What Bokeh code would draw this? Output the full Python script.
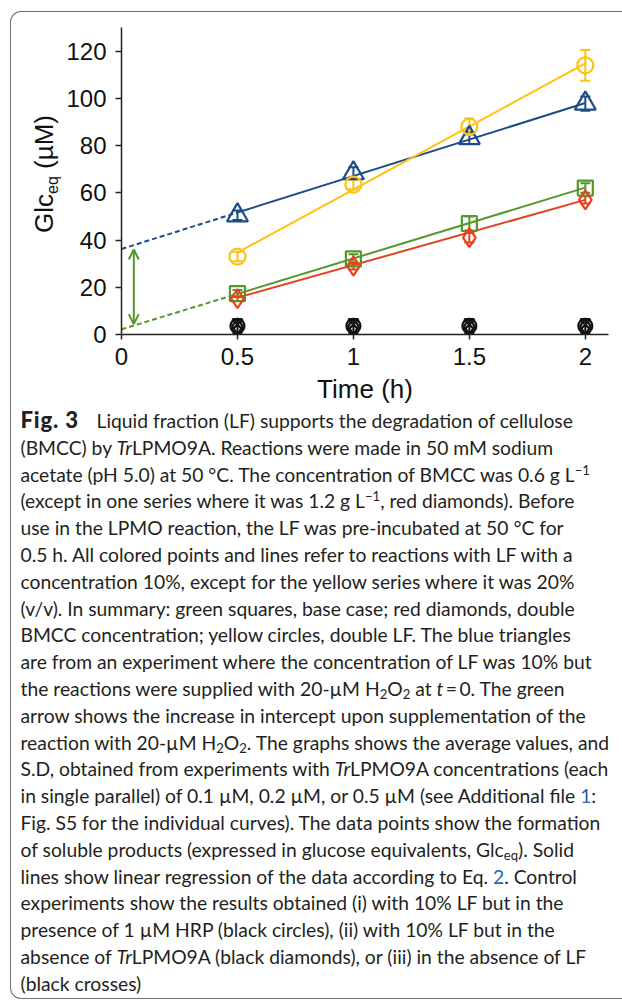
import math
from bokeh.plotting import figure
from bokeh.models import (Div, Whisker, TeeHead, Arrow, OpenHead,
                          ColumnDataSource, FixedTicker, Range1d, NumeralTickFormatter)
from bokeh.layouts import column, row
from bokeh.embed import file_html
from bokeh.resources import INLINE

# ---------------- data ----------------
time_h = [0.5, 1.0, 1.5, 2.0]

blue_h2o2 = [50.5, 68.3, 83.2, 97.8]      # blue triangles (20 uM H2O2)
blue_sd = [2.0, 2.5, 2.5, 3.0]
yellow_lf20 = [33.0, 63.5, 88.0, 114.0]   # yellow circles (20% LF)
yellow_sd = [2.0, 2.0, 3.5, 6.5]
green_base = [17.3, 32.0, 47.0, 62.0]     # green squares (base case)
green_sd = [1.5, 2.0, 3.0, 2.0]
red_bmcc = [15.2, 29.0, 41.0, 57.0]       # red diamonds (double BMCC)
red_sd = [1.0, 1.5, 2.0, 1.5]

ctrl_hrp = [3.6, 3.6, 3.6, 3.6]           # black circles
ctrl_no_lpmo = [3.4, 3.4, 3.4, 3.4]       # black diamonds
ctrl_no_lf = [4.2, 4.2, 4.2, 4.2]         # black crosses
ctrl_sd = [3.0, 3.0, 3.0, 3.0]

# linear regression (intercept, slope)
blue_fit = (36.2, 30.9)
yellow_fit = (8.0, 53.4)
green_fit = (2.2, 30.0)
red_fit = (1.8, 27.6)
fit_start, fit_end = 0.5, 2.0
extrap_start = 0.0

# arrow showing the increase in intercept
arrow_x = 0.053
arrow_y_low = 4.4
arrow_y_high = 36.0

x_ticks = [0, 0.5, 1, 1.5, 2]
y_ticks = [0, 20, 40, 60, 80, 100, 120]
x_title = "Time (h)"
y_title_main, y_title_sub, y_title_unit = "Glc", "eq", "(\u00b5M)"

# ---------------- styles ----------------
BLUE = "#1d4c87"
YELLOW = "#ffc20e"
GREEN = "#55972a"
RED = "#e5431f"
BLACK = "#111111"
AX = "#222222"
FONT = "Liberation Sans"
FIG_H = 398
LAB_W = 50

p = figure(width=611 - LAB_W, height=FIG_H, x_range=Range1d(0, 2.1), y_range=Range1d(0, 130),
           output_backend="svg", toolbar_location=None,
           min_border_left=110 - LAB_W, min_border_right=14, min_border_top=15, min_border_bottom=76)
p.grid.visible = False
p.outline_line_color = None
p.background_fill_color = None
p.border_fill_color = None

p.xaxis.ticker = FixedTicker(ticks=x_ticks)
p.yaxis.ticker = FixedTicker(ticks=y_ticks)
p.xaxis.formatter = NumeralTickFormatter(format="0.[0]")
for ax in p.axis:
    ax.axis_line_color = AX
    ax.axis_line_width = 1.5
    ax.major_tick_line_color = AX
    ax.major_tick_line_width = 1.5
    ax.major_tick_in = 0
    ax.minor_tick_line_color = None
    ax.major_label_text_font = FONT
    ax.major_label_text_font_size = "24px"
    ax.major_label_text_color = BLACK
p.xaxis.major_tick_out = 5
p.yaxis.major_tick_out = 6
p.yaxis.major_label_standoff = 9
p.xaxis.major_label_standoff = 8
p.xaxis.axis_label = x_title
p.xaxis.axis_label_text_font = FONT
p.xaxis.axis_label_text_font_size = "26px"
p.xaxis.axis_label_text_font_style = "normal"
p.xaxis.axis_label_text_color = BLACK
p.xaxis.axis_label_standoff = 6


def fit_line(fit, x0, x1):
    b, m = fit
    return [x0, x1], [b + m * x0, b + m * x1]


# regression lines
for fit, col, dashed in [(blue_fit, BLUE, True), (yellow_fit, YELLOW, False),
                         (green_fit, GREEN, True), (red_fit, RED, False)]:
    xs, ys = fit_line(fit, fit_start, fit_end)
    p.line(xs, ys, line_color=col, line_width=2)
    if dashed:
        xs, ys = fit_line(fit, extrap_start, fit_start)
        p.line(xs, ys, line_color=col, line_width=2, line_dash="5 3")

# arrow
p.add_layout(Arrow(x_start=arrow_x, y_start=arrow_y_low, x_end=arrow_x, y_end=arrow_y_high,
                   line_color=GREEN, line_width=2,
                   start=OpenHead(size=10, line_color=GREEN, line_width=2),
                   end=OpenHead(size=10, line_color=GREEN, line_width=2)))


def err(vals, sd, col):
    src = ColumnDataSource(dict(x=time_h, lo=[v - s for v, s in zip(vals, sd)],
                                hi=[v + s for v, s in zip(vals, sd)]))
    p.add_layout(Whisker(source=src, base="x", lower="lo", upper="hi",
                         line_color=col, line_width=2,
                         upper_head=TeeHead(size=10, line_color=col, line_width=2),
                         lower_head=TeeHead(size=10, line_color=col, line_width=2)))


# colored series
err(blue_h2o2, blue_sd, BLUE)
p.scatter(time_h, blue_h2o2, marker="triangle", size=21, fill_color=None, line_color=BLUE, line_width=2.2)
err(yellow_lf20, yellow_sd, YELLOW)
p.scatter(time_h, yellow_lf20, marker="circle", size=16, fill_color=None, line_color=YELLOW, line_width=2.2)
err(green_base, green_sd, GREEN)
p.scatter(time_h, green_base, marker="square", size=15, fill_color=None, line_color=GREEN, line_width=2.2)
err(red_bmcc, red_sd, RED)
p.scatter(time_h, red_bmcc, marker="diamond", size=19, fill_color=None, line_color=RED, line_width=2.2)

# controls
err(ctrl_hrp, ctrl_sd, BLACK)
p.scatter(time_h, ctrl_hrp, marker="circle", size=14, fill_color=None, line_color=BLACK, line_width=2.2)
p.scatter(time_h, ctrl_no_lpmo, marker="diamond", size=16, fill_color=None, line_color=BLACK, line_width=2.2)
p.scatter(time_h, ctrl_no_lf, marker="x", size=15, fill_color=None, line_color=BLACK, line_width=2.2)

# ---------------- y axis title (rotated HTML text with subscript) ----------------
ylab_html = (
    '<div style="position:relative;width:%dpx;height:%dpx">'
    '<div style="position:absolute;left:19.5px;top:220.5px;transform:rotate(-90deg);'
    'transform-origin:left top;white-space:nowrap;font-family:\'Liberation Sans\';'
    'font-size:26px;line-height:26px;color:%s">'
    '%s<span style="font-size:16px;line-height:0;vertical-align:-5px">%s</span>&nbsp;%s'
    '</div></div>' % (LAB_W, FIG_H, BLACK, y_title_main, y_title_sub, y_title_unit)
)
ylab = Div(text=ylab_html, width=LAB_W, height=FIG_H, margin=0)

# ---------------- caption ----------------
SUB = '<sub style="font-size:0.68em;line-height:0;vertical-align:-0.25em">'
SUP = '<sup style="font-size:0.68em;line-height:0;vertical-align:0.55em">'
LINK = '<span style="color:#2b5fb4">'
FIGNO = ('<span style="display:inline-block;width:76px;font-weight:900;font-size:1.15em;'
         'letter-spacing:0.8px">')
lines = [
    FIGNO + "Fig.\u00a03</span>Liquid fraction (LF) supports the degradation of cellulose",
    "(BMCC) by <i>Tr</i>LPMO9A. Reactions were made in 50 mM sodium",
    "acetate (pH 5.0) at 50 \u00b0C. The concentration of BMCC was 0.6 g L" + SUP + "\u22121</sup>",
    "(except in one series where it was 1.2 g L" + SUP + "\u22121</sup>, red diamonds). Before",
    "use in the LPMO reaction, the LF was pre-incubated at 50 \u00b0C for",
    "0.5 h. All colored points and lines refer to reactions with LF with a",
    "concentration 10%, except for the yellow series where it was 20%",
    "(v/v). In summary: green squares, base case; red diamonds, double",
    "BMCC concentration; yellow circles, double LF. The blue triangles",
    "are from an experiment where the concentration of LF was 10% but",
    "the reactions were supplied with 20-\u00b5M H" + SUB + "2</sub>O" + SUB + "2</sub> at <i>t</i>\u2009=\u20090. The green",
    "arrow shows the increase in intercept upon supplementation of the",
    "reaction with 20-\u00b5M H" + SUB + "2</sub>O" + SUB + "2</sub>. The graphs shows the average values, and",
    "S.D, obtained from experiments with <i>Tr</i>LPMO9A concentrations (each",
    "in single parallel) of 0.1 \u00b5M, 0.2 \u00b5M, or 0.5 \u00b5M (see Additional file " + LINK + "1</span>:",
    "Fig. S5 for the individual curves). The data points show the formation",
    "of soluble products (expressed in glucose equivalents, Glc" + SUB + "eq</sub>). Solid",
    "lines show linear regression of the data according to Eq. " + LINK + "2</span>. Control",
    "experiments show the results obtained (i) with 10% LF but in the",
    "presence of 1 \u00b5M HRP (black circles), (ii) with 10% LF but in the",
    "absence of <i>Tr</i>LPMO9A (black diamonds), or (iii) in the absence of LF",
    "(black crosses)",
]
cap_html = '<div style="position:relative;top:-3px">' + "<br>".join(lines) + "</div>"
cap = Div(text=cap_html, width=605, height=588, margin=0,
          styles={"font-family": "Lato", "font-size": "19.3px", "line-height": "26.8px",
                  "color": "#231f20", "white-space": "nowrap", "padding-left": "9.5px"})

root = column(row(ylab, p), cap, styles={
    "margin-left": "10px", "margin-top": "11px",
    "border-top": "1.5px solid #707070", "border-left": "1.5px solid #707070",
    "border-bottom": "1.5px solid #707070",
    "border-top-left-radius": "11px", "border-bottom-left-radius": "11px",
})

open("out.html", "w").write(file_html(root, INLINE))
